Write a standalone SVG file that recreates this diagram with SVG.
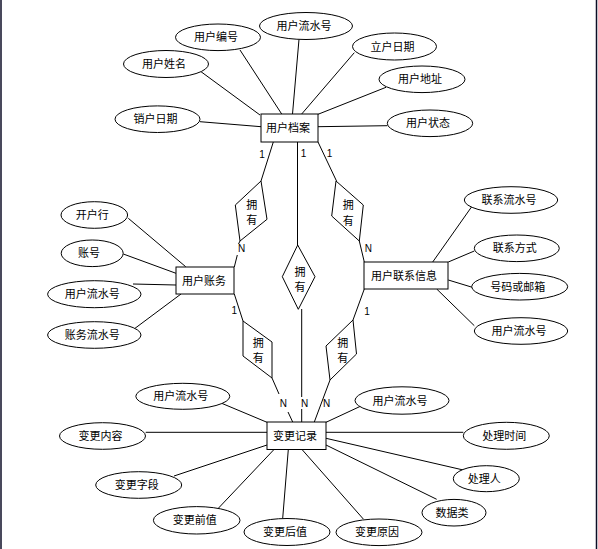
<svg xmlns="http://www.w3.org/2000/svg" width="598" height="549" viewBox="0 0 598 549">
<style>
.e{fill:#fff;stroke:#000;stroke-width:1}
.r{fill:#fff;stroke:#000;stroke-width:1}
.d{fill:#fff;stroke:#000;stroke-width:1}
.t{font-family:"Liberation Sans","Noto Sans CJK SC",sans-serif;font-size:11px;fill:#000;text-anchor:middle}
.c line{stroke:#000;stroke-width:1}
.n{font-family:"Liberation Sans","Noto Sans CJK SC",sans-serif;font-size:10px;fill:#000;text-anchor:middle}
</style>
<rect width="598" height="549" fill="#fff"/>
<line x1="1" y1="0" x2="1" y2="549" stroke="#0d0d26" stroke-width="1.5"/>
<line x1="596.5" y1="0" x2="596.5" y2="549" stroke="#0d0d26" stroke-width="1.5"/>
<g id="connectors" class="c">
<line x1="201" y1="71.7" x2="260" y2="115"/>
<line x1="240" y1="50" x2="281.7" y2="114"/>
<line x1="299" y1="39.3" x2="292.5" y2="114"/>
<line x1="354.3" y1="52.7" x2="301.7" y2="114"/>
<line x1="386" y1="87.3" x2="318" y2="114.3"/>
<line x1="387.3" y1="125.7" x2="318" y2="126.7"/>
<line x1="200" y1="121.7" x2="261" y2="126.7"/>
<line x1="273.3" y1="142" x2="261" y2="181"/>
<line x1="297.5" y1="142" x2="297.5" y2="245"/>
<line x1="318" y1="142" x2="336.5" y2="181"/>
<line x1="240" y1="241" x2="238.5" y2="244"/>
<line x1="237.3" y1="255" x2="234.3" y2="267"/>
<line x1="359.3" y1="241" x2="364.3" y2="262"/>
<line x1="234.3" y1="294" x2="243" y2="321"/>
<line x1="364.3" y1="289" x2="353" y2="320"/>
<line x1="272" y1="378" x2="279" y2="394"/>
<line x1="288" y1="412" x2="292.7" y2="422"/>
<line x1="301.7" y1="309" x2="301.7" y2="397"/>
<line x1="301.7" y1="409" x2="301.7" y2="422"/>
<line x1="330" y1="380" x2="314.3" y2="422"/>
<line x1="128.3" y1="218.3" x2="185.7" y2="266.7"/>
<line x1="123.3" y1="254" x2="176" y2="273.3"/>
<line x1="133" y1="284" x2="176" y2="285"/>
<line x1="135" y1="328.3" x2="181" y2="294"/>
<line x1="471.7" y1="206.7" x2="432.7" y2="262"/>
<line x1="474.3" y1="251" x2="448.3" y2="262"/>
<line x1="472.3" y1="287.3" x2="448.3" y2="280"/>
<line x1="474.3" y1="325.7" x2="436.7" y2="289"/>
<line x1="221.7" y1="403.3" x2="267" y2="422.3"/>
<line x1="145.7" y1="432.3" x2="267" y2="432.3"/>
<line x1="174" y1="476" x2="267" y2="445"/>
<line x1="218.3" y1="508.3" x2="274" y2="449.5"/>
<line x1="282.7" y1="518.3" x2="288.3" y2="449.5"/>
<line x1="363.3" y1="519" x2="302" y2="449.5"/>
<line x1="436.7" y1="499.3" x2="326" y2="445"/>
<line x1="463.3" y1="470" x2="326" y2="438.3"/>
<line x1="463.3" y1="432.3" x2="326" y2="432.3"/>
<line x1="361.7" y1="405.7" x2="326" y2="422.3"/>
</g>
<g id="labels">
<text class="n" x="262" y="158">1</text>
<text class="n" x="303.5" y="157">1</text>
<text class="n" x="329.5" y="157">1</text>
<text class="n" x="241.7" y="251.5">N</text>
<text class="n" x="368.3" y="252">N</text>
<text class="n" x="234.3" y="314">1</text>
<text class="n" x="367" y="314.5">1</text>
<text class="n" x="283.3" y="407">N</text>
<text class="n" x="304.5" y="407">N</text>
<text class="n" x="326.5" y="407">N</text>
</g>
<g id="user-profile">
<rect class="r" x="261" y="114" width="57" height="28"/>
<text class="t" x="288" y="132">用户档案</text>
</g>
<g id="user-account">
<rect class="r" x="176" y="267" width="58" height="27"/>
<text class="t" x="204" y="284.5">用户账务</text>
</g>
<g id="user-contact">
<rect class="r" x="364" y="262" width="84" height="27"/>
<text class="t" x="404" y="279.5">用户联系信息</text>
</g>
<g id="change-record">
<rect class="r" x="267" y="422" width="59" height="27.5"/>
<text class="t" x="295" y="439.5">变更记录</text>
</g>
<g id="rel-tl">
<polygon class="d" points="261,181 267,219.3 240,241 235.3,205"/>
<text class="t" x="251.7" y="209">拥</text>
<text class="t" x="251.7" y="224">有</text>
</g>
<g id="rel-tr">
<polygon class="d" points="336,181 363.3,205 359.3,241 331.7,216"/>
<text class="t" x="348.3" y="209">拥</text>
<text class="t" x="348.3" y="224.5">有</text>
</g>
<g id="rel-mid">
<polygon class="d" points="297.7,245 315,276.7 298.3,309.3 282.3,276.7"/>
<text class="t" x="300" y="275.5">拥</text>
<text class="t" x="300" y="290.5">有</text>
</g>
<g id="rel-bl">
<polygon class="d" points="243,321 272,342 272,378 243,356"/>
<text class="t" x="258.3" y="346.5">拥</text>
<text class="t" x="258.3" y="362">有</text>
</g>
<g id="rel-br">
<polygon class="d" points="353,320 356.5,354 330,380 326,346"/>
<text class="t" x="342.7" y="346.5">拥</text>
<text class="t" x="342.7" y="362">有</text>
</g>
<g id="attr-user-name"><ellipse class="e" cx="166" cy="64" rx="42.5" ry="13.5"/><text class="t" x="164" y="68">用户姓名</text></g>
<g id="attr-user-id"><ellipse class="e" cx="218" cy="37.3" rx="42.5" ry="13.3"/><text class="t" x="216" y="41.3">用户编号</text></g>
<g id="attr-user-serial"><ellipse class="e" cx="306" cy="26" rx="46.5" ry="13.5"/><text class="t" x="304" y="30">用户流水号</text></g>
<g id="attr-open-date"><ellipse class="e" cx="394.5" cy="46.5" rx="42" ry="13.5"/><text class="t" x="392.5" y="50.5">立户日期</text></g>
<g id="attr-address"><ellipse class="e" cx="422" cy="79.3" rx="43" ry="13.3"/><text class="t" x="420" y="83.3">用户地址</text></g>
<g id="attr-status"><ellipse class="e" cx="430" cy="123.3" rx="42.7" ry="13.3"/><text class="t" x="428" y="127.3">用户状态</text></g>
<g id="attr-close-date"><ellipse class="e" cx="157.5" cy="119.2" rx="42.5" ry="13.3"/><text class="t" x="155.5" y="123.2">销户日期</text></g>
<g id="attr-bank"><ellipse class="e" cx="94.3" cy="215" rx="33.3" ry="13.3"/><text class="t" x="92.3" y="219">开户行</text></g>
<g id="attr-account-no"><ellipse class="e" cx="92.2" cy="253.3" rx="31" ry="13.3"/><text class="t" x="89" y="257.3">账号</text></g>
<g id="attr-acc-user-serial"><ellipse class="e" cx="94.3" cy="294.2" rx="46.7" ry="13.5"/><text class="t" x="92.3" y="298.2">用户流水号</text></g>
<g id="attr-acc-serial"><ellipse class="e" cx="94.3" cy="335" rx="46.7" ry="13.3"/><text class="t" x="92.3" y="339">账务流水号</text></g>
<g id="attr-contact-serial"><ellipse class="e" cx="511" cy="200" rx="46.7" ry="13.3"/><text class="t" x="509" y="204">联系流水号</text></g>
<g id="attr-contact-way"><ellipse class="e" cx="516.8" cy="248.3" rx="42.5" ry="13.3"/><text class="t" x="514.8" y="252.3">联系方式</text></g>
<g id="attr-phone-mail"><ellipse class="e" cx="519.7" cy="286.7" rx="48" ry="13.3"/><text class="t" x="517.7" y="290.7">号码或邮箱</text></g>
<g id="attr-con-user-serial"><ellipse class="e" cx="521" cy="331" rx="46.7" ry="13.3"/><text class="t" x="519" y="335">用户流水号</text></g>
<g id="attr-chg-user-serial-l"><ellipse class="e" cx="182.8" cy="396.3" rx="47" ry="13"/><text class="t" x="180.8" y="400.3">用户流水号</text></g>
<g id="attr-chg-content"><ellipse class="e" cx="102.5" cy="436" rx="43" ry="13.3"/><text class="t" x="100.5" y="440">变更内容</text></g>
<g id="attr-chg-field"><ellipse class="e" cx="138.7" cy="485" rx="43" ry="13.3"/><text class="t" x="136.7" y="489">变更字段</text></g>
<g id="attr-chg-before"><ellipse class="e" cx="196.7" cy="520.3" rx="43.3" ry="13.7"/><text class="t" x="194.7" y="524.3">变更前值</text></g>
<g id="attr-chg-after"><ellipse class="e" cx="287" cy="532" rx="43" ry="13.5"/><text class="t" x="285" y="536">变更后值</text></g>
<g id="attr-chg-reason"><ellipse class="e" cx="379" cy="532.3" rx="43" ry="13.3"/><text class="t" x="377" y="536.3">变更原因</text></g>
<g id="attr-data-type"><ellipse class="e" cx="454" cy="512.7" rx="32" ry="13.3"/><text class="t" x="452" y="516.7">数据类</text></g>
<g id="attr-handler"><ellipse class="e" cx="486.3" cy="478.7" rx="33" ry="13"/><text class="t" x="484.3" y="482.7">处理人</text></g>
<g id="attr-handle-time"><ellipse class="e" cx="506.3" cy="435.8" rx="43" ry="13.5"/><text class="t" x="504.3" y="439.8">处理时间</text></g>
<g id="attr-chg-user-serial-r"><ellipse class="e" cx="402" cy="400.5" rx="47" ry="13.7"/><text class="t" x="400" y="404.5">用户流水号</text></g>
</svg>
